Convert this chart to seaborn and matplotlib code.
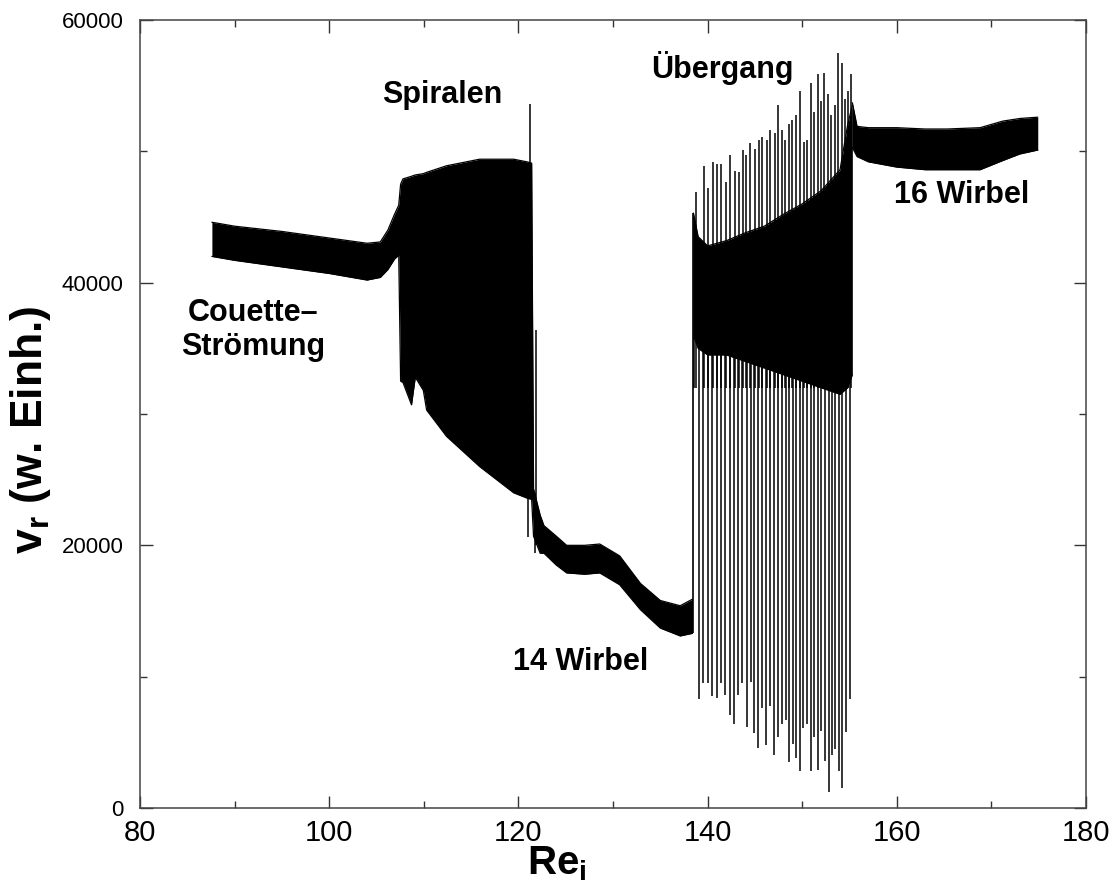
import matplotlib
matplotlib.use("Agg")
import numpy as np
import pandas as pd
import seaborn as sns
import matplotlib.pyplot as plt
from matplotlib.ticker import MultipleLocator

# envelope of the signal: Couette flow -> spirals -> 14 vortices
re_a = [87.6, 90, 95, 100, 104, 105.4, 106.2, 106.9, 107.35, 107.55, 107.8, 108.7, 109.1,
        109.95, 110.3, 112.4, 115.9, 119.5, 120.9, 121.4, 121.6, 122.3, 122.7, 124, 125.1,
        127, 128.6, 130.7, 132.9, 135.0, 137.1, 138.4]
hi_a = [44600, 44300, 43900, 43400, 43000, 43100, 44000, 45200, 45900, 47500, 47900, 48100, 48200,
        48300, 48400, 48900, 49400, 49400, 49200, 49100, 24300, 22300, 21500, 20700, 20000,
        20000, 20100, 19200, 17100, 15800, 15400, 15900]
lo_a = [42000, 41700, 41200, 40700, 40200, 40400, 41000, 41800, 42100, 32500, 32400, 30700, 32800,
        31800, 30300, 28300, 26000, 24000, 23600, 23500, 20700, 19400, 19400, 18500, 17900,
        17800, 17900, 17000, 15100, 13700, 13100, 13300]

# glitches at the end of the spiral regime
glitch_re = [121.05, 121.2, 121.75, 121.9, 122.1]
glitch_lo = [20600, 23600, 19400, 20000, 20100]
glitch_hi = [24000, 53600, 24000, 36400, 22000]

# transition: dense core + single oscillation spikes
re_b = [138.5, 139.0, 140, 142, 144, 146, 148, 150, 152, 154, 154.8, 155.3]
hi_b = [45300, 43500, 42800, 43200, 43800, 44300, 45200, 46000, 47000, 48600, 52000, 53500]
lo_b = [36000, 35000, 34500, 34500, 34000, 33500, 33000, 32500, 32000, 31500, 32000, 33000]

top_re = [138.53, 138.81, 139.58, 140.04, 140.54, 140.99, 141.45, 141.91, 142.37, 142.86, 143.29,
          143.74, 144.09, 144.52, 144.98, 145.40, 145.72, 146.24, 146.60, 147.09, 147.41, 147.90,
          148.22, 148.57, 148.96, 149.31, 149.73, 150.16, 150.54, 150.93, 151.28, 151.64, 151.99,
          152.34, 152.69, 153.08, 153.43, 153.82, 154.21, 154.52, 154.84, 155.12]
top_v = [45000, 46900, 48900, 47200, 49200, 49000, 49000, 47700, 49700, 48500, 48400,
         50100, 49700, 50600, 50200, 50900, 51100, 50900, 51600, 51400, 53500, 51600,
         50900, 52100, 52400, 52800, 54600, 50700, 50900, 55200, 53000, 55900, 53800,
         56000, 54400, 52800, 53500, 57500, 56700, 54000, 54600, 55900]
bot_re = [139.09, 139.51, 140.04, 140.47, 140.99, 141.38, 141.84, 142.33, 142.76, 143.18, 143.64,
          144.13, 144.55, 144.94, 145.33, 145.75, 146.14, 146.60, 147.02, 147.44, 147.86, 148.25,
          148.61, 149.03, 149.34, 149.73, 150.12, 150.51, 150.93, 151.28, 151.67, 152.02, 152.37,
          152.80, 153.15, 153.50, 153.85, 154.21, 154.59, 155.05]
bot_v = [8300, 9500, 9500, 8500, 8400, 9500, 8600, 7100, 6400, 8600, 9500,
         6200, 9600, 5700, 4600, 7600, 4800, 7800, 4000, 5400, 6400, 6700,
         3500, 4900, 3800, 2800, 6100, 6400, 2800, 5400, 2900, 5900, 3600,
         1200, 4000, 4500, 2800, 1500, 5800, 8300]

# 16 vortices
re_c = [155.3, 155.8, 157, 160, 163, 165.3, 168.8, 171.2, 173, 174.9]
hi_c = [53700, 51900, 51800, 51800, 51700, 51700, 51800, 52300, 52500, 52600]
lo_c = [50300, 49600, 49200, 48800, 48600, 48600, 48600, 49300, 49800, 50100]

labels = [("Couette\u2013\nStr\u00f6mung", 92.0, 36400),
          ("Spiralen", 112.0, 54300),
          ("\u00dcbergang", 141.6, 56350),
          ("14 Wirbel", 126.6, 11100),
          ("16 Wirbel", 166.8, 46700)]

sns.set_theme(style="ticks")
plt.rcParams['font.family'] = ['Liberation Sans', 'DejaVu Sans']
plt.rcParams['mathtext.fontset'] = 'custom'
plt.rcParams['mathtext.rm'] = 'Liberation Sans:bold'
plt.rcParams['mathtext.it'] = 'Liberation Sans:bold'
plt.rcParams['mathtext.bf'] = 'Liberation Sans:bold'
plt.rcParams['text.color'] = 'black'
plt.rcParams['axes.labelcolor'] = 'black'
plt.rcParams['xtick.labelcolor'] = 'black'
plt.rcParams['ytick.labelcolor'] = 'black'

fig, ax = plt.subplots(figsize=(11.16, 8.94), dpi=100)
fig.subplots_adjust(left=140 / 1116, right=1086 / 1116, top=1 - 20 / 894, bottom=1 - 808 / 894)

edges = pd.concat([
    pd.DataFrame({"Re": re_a, "v": hi_a, "edge": "a_hi"}),
    pd.DataFrame({"Re": re_a, "v": lo_a, "edge": "a_lo"}),
    pd.DataFrame({"Re": re_b, "v": hi_b, "edge": "b_hi"}),
    pd.DataFrame({"Re": re_b, "v": lo_b, "edge": "b_lo"}),
    pd.DataFrame({"Re": re_c, "v": hi_c, "edge": "c_hi"}),
    pd.DataFrame({"Re": re_c, "v": lo_c, "edge": "c_lo"}),
])
for re_, lo_, hi_ in [(re_a, lo_a, hi_a), (re_b, lo_b, hi_b), (re_c, lo_c, hi_c)]:
    ax.fill_between(re_, lo_, hi_, color="black", linewidth=0)
sns.lineplot(data=edges, x="Re", y="v", units="edge", estimator=None, sort=False,
             color="black", linewidth=0.9, ax=ax, legend=False)

ax.vlines(glitch_re, glitch_lo, glitch_hi, color="black", linewidth=1.1)
ax.vlines([re_b[0]], [lo_a[-1]], [hi_b[0]], color="black", linewidth=1.2)
ax.vlines(top_re, 32000, top_v, color="black", linewidth=1.1)
ax.vlines(bot_re, bot_v, 40000, color="black", linewidth=1.1)

for txt, x, y in labels:
    ax.text(x, y, txt, ha="center", va="center", fontsize=22, fontweight="bold",
            linespacing=1.2)

ax.set_xlim(80, 180)
ax.set_ylim(0, 60000)
ax.xaxis.set_major_locator(MultipleLocator(20))
ax.xaxis.set_minor_locator(MultipleLocator(10))
ax.yaxis.set_major_locator(MultipleLocator(20000))
ax.yaxis.set_minor_locator(MultipleLocator(10000))
ax.tick_params(which="both", direction="in", top=True, right=True, color="#333333", width=1)
ax.tick_params(which="major", length=9)
ax.tick_params(which="minor", length=5)
ax.tick_params(axis="x", labelsize=21, pad=8)
ax.tick_params(axis="y", labelsize=16, pad=12)
for s in ax.spines.values():
    s.set_color("#444444")
    s.set_linewidth(1.1)

ax.set_xlabel(r"$\mathregular{Re_i}$", fontsize=29, fontweight="bold", va="center")
ax.xaxis.set_label_coords((557 - 140) / 946, -(864 - 808) / 788)
ax.set_ylabel(r"$\mathregular{v_r}$ (w. Einh.)", fontsize=32, fontweight="bold", va="center")
ax.yaxis.set_label_coords(-(140 - 31) / 946, (808 - 430) / 788)

fig.savefig("out.png", dpi=100)
